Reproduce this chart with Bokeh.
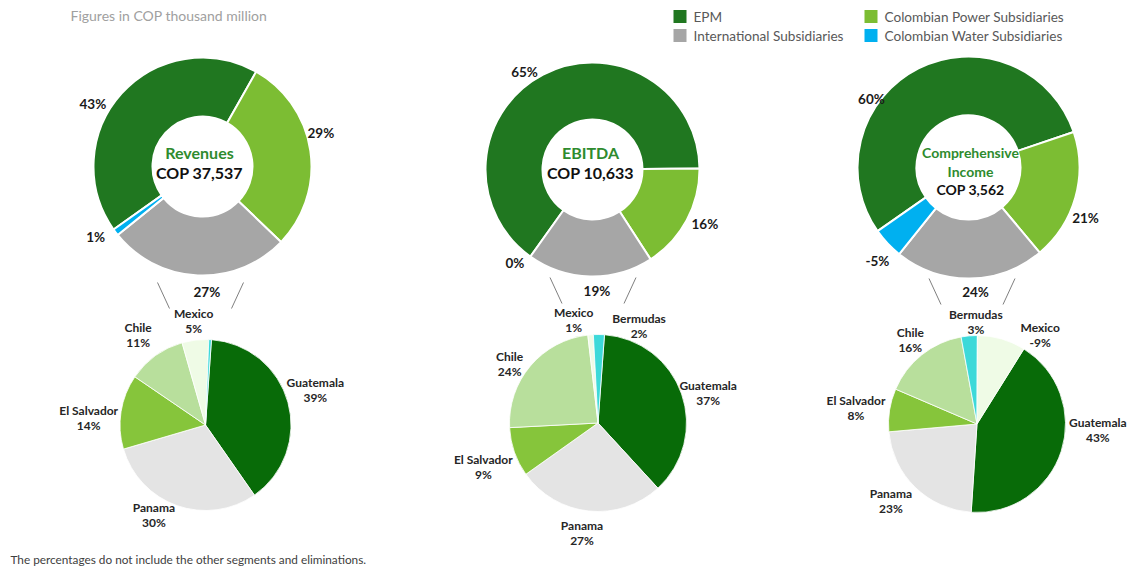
import math
from bokeh.plotting import figure
from bokeh.models import Range1d, ColumnDataSource
from bokeh.core.properties import value
from bokeh.embed import file_html
from bokeh.resources import INLINE

# ---------------- data ----------------
segments = ["EPM", "Colombian Power Subsidiaries",
            "International Subsidiaries", "Colombian Water Subsidiaries"]
revenues_pct = [43, 29, 27, 1]
ebitda_pct = [65, 16, 19, 0]
income_pct = [60, 21, 24, -5]

metric_names = ["Revenues", "EBITDA", "Comprehensive\nIncome"]
metric_totals = ["COP 37,537", "COP 10,633", "COP 3,562"]

rev_countries = ["Guatemala", "Panama", "El Salvador", "Chile", "Mexico", "Bermudas"]
rev_country_pct = [39, 30, 14, 11, 5, 0.5]
rev_country_labelled = [True, True, True, True, True, False]

ebitda_countries = ["Guatemala", "Panama", "El Salvador", "Chile", "Mexico", "Bermudas"]
ebitda_country_pct = [37, 27, 9, 24, 1, 2]
ebitda_country_labelled = [True, True, True, True, True, True]

income_countries = ["Guatemala", "Panama", "El Salvador", "Chile", "Bermudas", "Mexico"]
income_country_pct = [43, 23, 8, 16, 3, -9]
income_country_labelled = [True, True, True, True, True, True]

title_text = "Figures in COP thousand million"
note_text = "The percentages do not include the other segments and eliminations."

# ---------------- styles / layout ----------------
W, H = 1134, 569
FONT = value("Lato")
seg_colors = ["#207720", "#7CBD33", "#A6A6A6", "#00B0F0"]
country_colors = {"Guatemala": "#086B08", "Panama": "#E4E4E4", "El Salvador": "#86C53B",
                  "Chile": "#B8DF9C", "Mexico": "#EFFBE6", "Bermudas": "#3DD9D9"}

donut_center = [(202, 166), (592, 169), (968, 167)]   # pixel coords (y down)
donut_outer = [109, 107, 111]
donut_inner = [50, 50, 52]
donut_start = [234.7, 215.5, 235.0]                   # first slice start, deg clockwise from 12 o'clock
donut_lbl_nudge = [[-12.6, -7.5, -4.5, 3.7], [-7.5, -2.3, -3.4, 4.2], [-28, 7.8, -2.6, -2.7]]
donut_lbl_r = [[126, 123, 126, 128], [118.5, 125, 121.6, 121.4], [118.7, 127.6, 124.2, 130.8]]
center_block = [(199, 162, 16), (590, 162, 16), (970, 170.5, 14)]

pie_center = [(205, 424.5), (597.5, 422.5), (976.5, 423.5)]
pie_r = [85.5, 88.5, 88.5]
pie_start = [4.0, 4.2, 32.0]
pie_lbl_nudge = [[-1.8, 10.4, -5.7, -1.2, 0.3, 0], [4.3, 2.2, -2, -6.7, -8.6, 22.4],
                 [-14.8, 3.6, -1.8, 0, 4.4, 19.3]]
pie_lbl_r = [[115, 104, 117, 112, 104, 0], [114, 112, 123, 106, 105, 105],
             [121, 116, 122, 107, 101.5, 109]]

donut_values = [revenues_pct, ebitda_pct, income_pct]
pie_sets = [(rev_countries, rev_country_pct, rev_country_labelled),
            (ebitda_countries, ebitda_country_pct, ebitda_country_labelled),
            (income_countries, income_country_pct, income_country_labelled)]

p = figure(width=W, height=H, x_range=Range1d(0, W), y_range=Range1d(0, H),
           output_backend="svg", toolbar_location=None, min_border=0,
           x_axis_location=None, y_axis_location=None)
p.xgrid.visible = False
p.ygrid.visible = False
p.outline_line_color = None
p.background_fill_color = "white"
p.border_fill_color = "white"


def yd(ypx):
    return H - ypx


def polar(cx, cy, r, theta):
    return cx + r * math.sin(math.radians(theta)), yd(cy - r * math.cos(math.radians(theta)))


def txt(xs, ys, texts, size, color, bold=True, align="center"):
    p.text(x=xs, y=ys, text=texts, text_font=FONT, text_font_size=f"{size}px",
           text_font_style="bold" if bold else "normal", text_color=color,
           text_align=align, text_baseline="middle")


# ---------------- donuts ----------------
for k in range(3):
    cx, cy = donut_center[k]
    vals = donut_values[k]
    tot = sum(abs(v) for v in vals)
    t = donut_start[k]
    st, en, col = [], [], []
    lx, ly, lt = [], [], []
    for i, v in enumerate(vals):
        span = 360.0 * abs(v) / tot
        if span > 0:
            st.append(math.radians(90 - (t + span)))
            en.append(math.radians(90 - t))
            col.append(seg_colors[i])
        mid = t + span / 2 + donut_lbl_nudge[k][i]
        x, y = polar(cx, cy, donut_lbl_r[k][i], mid)
        lx.append(x); ly.append(y); lt.append(f"{v}%")
        t += span
    src = ColumnDataSource(dict(x=[cx] * len(st), y=[yd(cy)] * len(st), s=st, e=en, c=col))
    p.annular_wedge(x="x", y="y", inner_radius=donut_inner[k], outer_radius=donut_outer[k],
                    start_angle="s", end_angle="e", fill_color="c",
                    line_color="white", line_width=2, source=src)
    txt(lx, ly, lt, 13.5, "#1A1A1A")

    # center text
    bx, by, fs = center_block[k]
    lines = metric_names[k].split("\n") + [metric_totals[k]]
    colors = ["#2E8B2E"] * (len(lines) - 1) + ["#111111"]
    step = fs * 1.3
    y0 = by - step * (len(lines) - 1) / 2
    for j, (ln, c) in enumerate(zip(lines, colors)):
        txt([bx], [yd(y0 + j * step)], [ln], fs, c)

# ---------------- pies ----------------
for k in range(3):
    cx, cy = pie_center[k]
    names, vals, shown = pie_sets[k]
    tot = sum(abs(v) for v in vals)
    t = pie_start[k]
    st, en, col = [], [], []
    nx, ny, nt, px_, py_, pt = [], [], [], [], [], []
    for i, (nm, v) in enumerate(zip(names, vals)):
        span = 360.0 * abs(v) / tot
        st.append(math.radians(90 - (t + span))); en.append(math.radians(90 - t))
        col.append(country_colors[nm])
        if shown[i]:
            mid = t + span / 2 + pie_lbl_nudge[k][i]
            x, y = polar(cx, cy, pie_lbl_r[k][i], mid)
            nx.append(x); ny.append(y + 8); nt.append(nm)
            px_.append(x); py_.append(y - 7)
            pt.append(f"{v:g}%")
        t += span
    src = ColumnDataSource(dict(x=[cx] * len(st), y=[yd(cy)] * len(st), s=st, e=en, c=col))
    p.wedge(x="x", y="y", radius=pie_r[k], start_angle="s", end_angle="e",
            fill_color="c", line_color="white", line_width=0.8, source=src)
    txt(nx, ny, nt, 12, "#262626")
    txt(px_, py_, pt, 12, "#262626")

    # connector lines from the international segment to the breakdown pie
    top = cy - pie_r[k]
    mx = cx - 5
    p.segment(x0=[mx - 43, mx + 43], y0=[yd(top - 57)] * 2, x1=[mx - 31, mx + 31],
              y1=[yd(top - 31)] * 2, line_color="#7F7F7F", line_width=1)

# ---------------- legend ----------------
leg_order = [0, 2, 1, 3]
leg_x = [679.5, 679.5, 870.5, 870.5]
leg_y = [16, 35, 16, 35]
p.scatter(x=leg_x, y=[yd(v) for v in leg_y], marker="square", size=13,
          fill_color=[seg_colors[i] for i in leg_order], line_color=None)
txt([x + 13.5 for x in leg_x], [yd(v) for v in leg_y], [segments[i] for i in leg_order],
    13.6, "#595959", bold=False, align="left")

# ---------------- title & note ----------------
txt([70], [yd(15)], [title_text], 14, "#A0A0A0", bold=False, align="left")
txt([10], [yd(559)], [note_text], 11.8, "#404040", bold=False, align="left")

open("out.html", "w").write(file_html(p, INLINE))
